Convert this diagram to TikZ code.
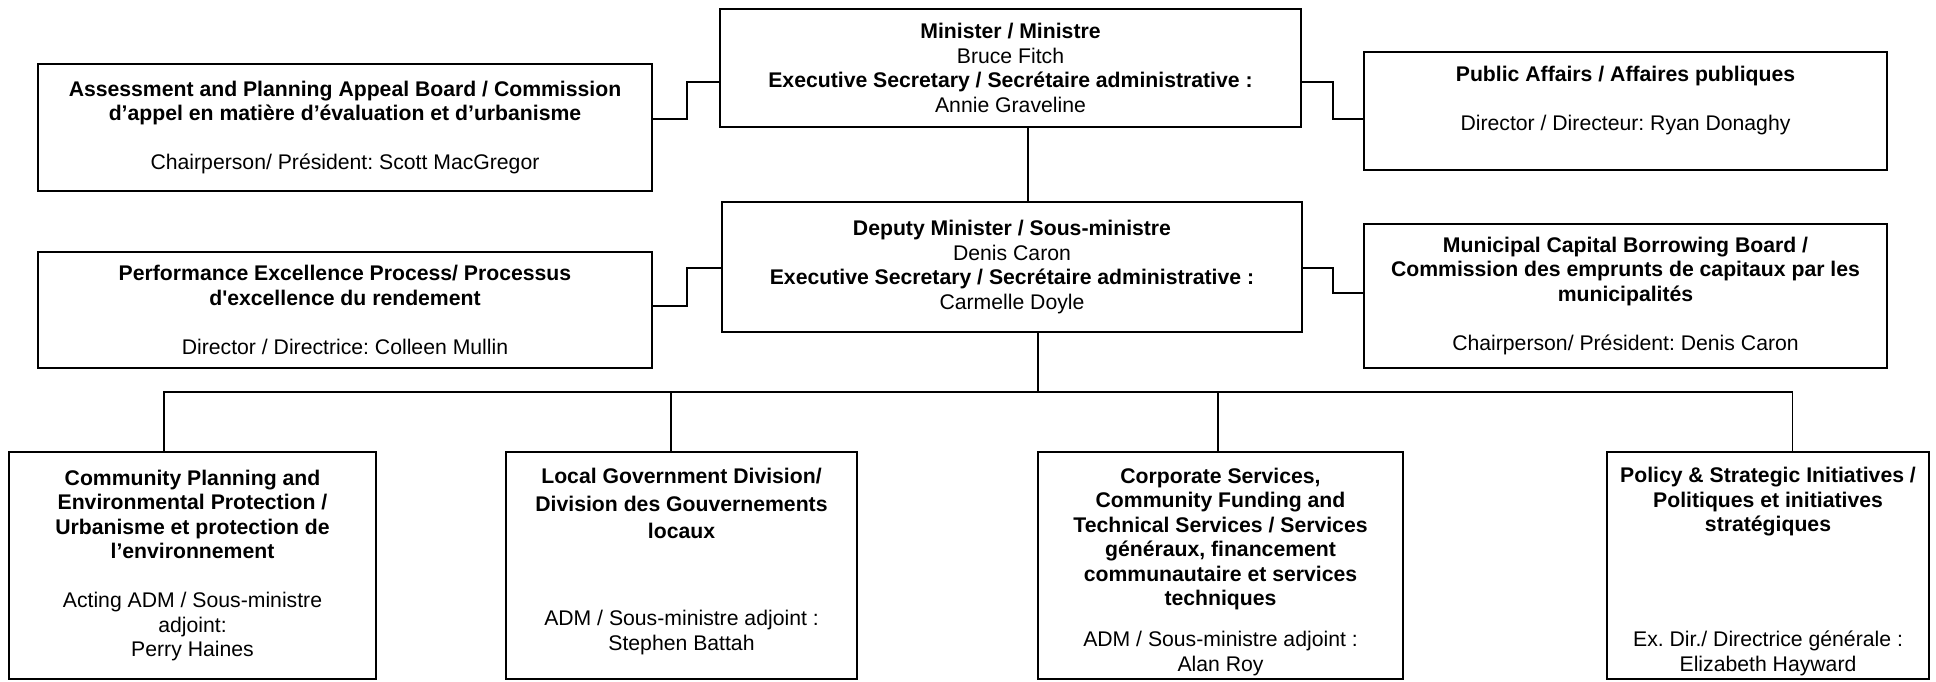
\documentclass[tikz,border=0pt]{standalone}
\usepackage{fontspec}
\setmainfont{Liberation Sans}
\usepackage{tikz}
\usetikzlibrary{calc}
\usetikzlibrary{positioning}
\frenchspacing

\begin{document}
\begin{tikzpicture}[-,x=0.5pt,y=-0.5pt,semithick]
	\tikzstyle{box}=[draw, rectangle, line width=0.9pt, inner sep=0pt, align=center, fill=white, font=\fontsize{10.6}{12.25}\selectfont]
	\tikzstyle{link}=[line width=0.7pt]
	\useasboundingbox (0,0) rectangle (1936,681);
		\node[box, minimum width=290.5pt, minimum height=59pt] (min) at (1010.5,68) {\textbf{Minister / Ministre}\\Bruce Fitch\\\textbf{Executive Secretary / Secrétaire administrative :}\\Annie Graveline};
		\node[box, minimum width=290pt, minimum height=65pt] (dm) at (1012,267) {\textbf{Deputy Minister / Sous-ministre}\\Denis Caron\\\textbf{Executive Secretary / Secrétaire administrative :}\\Carmelle Doyle};
		\node[box, minimum width=307pt, minimum height=63.5pt] (apab) at (345,127.5) {\textbf{Assessment and Planning Appeal Board / Commission}\\\textbf{d’appel en matière d’évaluation et d’urbanisme}\\[12.25pt]Chairperson/ Président: Scott MacGregor};
		\node[box, minimum width=307pt, minimum height=58pt] (pep) at (345,310) {\textbf{Performance Excellence Process/ Processus}\\\textbf{d\textquotesingle excellence du rendement}\\[12.25pt]Director / Directrice: Colleen Mullin};
		\node[box, minimum width=261.5pt, minimum height=59pt] (pa) at (1625.5,111) {\textbf{Public Affairs / Affaires publiques}\\[12.25pt]Director / Directeur: Ryan Donaghy\\\mbox{}};
		\node[box, minimum width=261.5pt, minimum height=72pt] (mcbb) at (1625.5,296) {\textbf{Municipal Capital Borrowing Board /}\\\textbf{Commission des emprunts de capitaux par les}\\\textbf{municipalités}\\[12.25pt]Chairperson/ Président: Denis Caron};
		\node[box, minimum width=183.5pt, minimum height=113.5pt] (cpep) at (192.5,565.5) {\textbf{Community Planning and}\\\textbf{Environmental Protection /}\\\textbf{Urbanisme et protection de}\\\textbf{l’environnement}\\[12.25pt]Acting ADM / Sous-ministre\\adjoint:\\Perry Haines};
		\node[box, minimum width=175.5pt, minimum height=113.5pt] (lgd) at (681.5,565.5) {\textbf{Local Government Division/}\\[1.5pt]\textbf{Division des Gouvernements}\\[1.5pt]\textbf{locaux}\\[31.25pt]ADM / Sous-ministre adjoint :\\Stephen Battah\\[-6.25pt]\mbox{}};
		\node[box, minimum width=182.5pt, minimum height=113.5pt] (csct) at (1220.5,565.5) {\mbox{}\\[1.5pt]\textbf{Corporate Services,}\\\textbf{Community Funding and}\\\textbf{Technical Services / Services}\\\textbf{généraux, financement}\\\textbf{communautaire et services}\\\textbf{techniques}\\[8.25pt]ADM / Sous-ministre adjoint :\\Alan Roy};
		\node[box, minimum width=161pt, minimum height=113.5pt] (psi) at (1768,565.5) {\mbox{}\\[1.5pt]\textbf{Policy \& Strategic Initiatives /}\\\textbf{Politiques et initiatives}\\\textbf{stratégiques}\\[45.25pt]Ex. Dir./ Directrice générale :\\Elizabeth Hayward};
		\coordinate (hub) at (1038,392);
		\draw[link] ([yshift=4.25pt]apab.east) -- ++(34,0) |- ([yshift=-7pt]min.west);
		\draw[link] ([yshift=2pt]pep.east) -- ++(34,0) |- ([yshift=-0.5pt]dm.west);
		\draw[link] ([yshift=-7pt]min.east) -- ++(31,0) |- ([yshift=-4pt]pa.west);
		\draw[link] ([yshift=-0.5pt]dm.east) -- ++(30,0) |- ([yshift=1.5pt]mcbb.west);
		\draw[link] ([xshift=8.75pt]min.south) -- ([xshift=8.75pt]min.south |- dm.north);
		\draw[link] ([xshift=13pt]dm.south) -- (hub);
		\draw[link] ([xshift=-14.25pt]cpep.north) |- (hub) -| ([xshift=12.25pt]psi.north);
		\draw[link] ([xshift=-5.25pt]lgd.north) -- ([xshift=-5.25pt]lgd.north |- hub);
		\draw[link] ([xshift=-1.25pt]csct.north) -- ([xshift=-1.25pt]csct.north |- hub);
\end{tikzpicture}
\end{document}
